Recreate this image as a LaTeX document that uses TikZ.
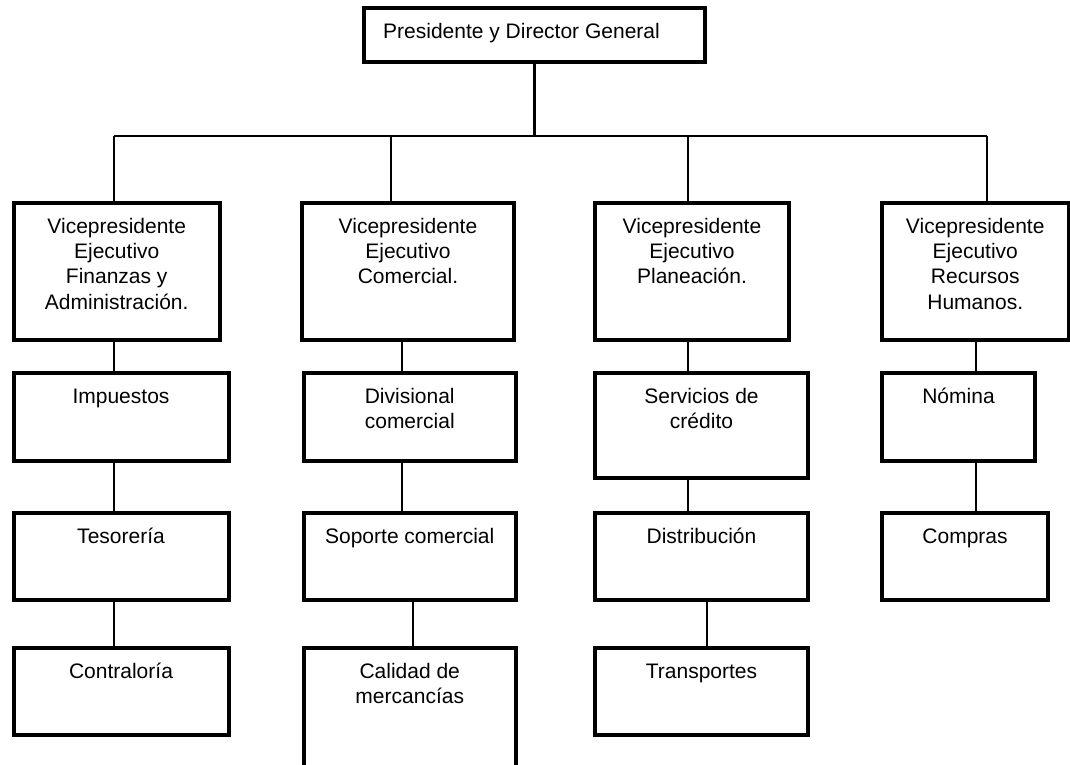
\documentclass[tikz,border=0pt]{standalone}
\usepackage{fontspec}
\setmainfont{Liberation Sans}
\usetikzlibrary{calc}
\newcommand\orgbox[6]{%
  \node[box, minimum width={#4-#2}, minimum height={#5-#3}] (#1) at ({(#2+#4)/2},{(#3+#5)/2}) {};
  \node[lbl] (#1-t) at ($(#1.north)+(0,12.6)$) {\strut #6};}
\begin{document}
\begin{tikzpicture}[x=1pt,y=-1pt,
  box/.style={draw, line width=4pt, inner sep=0pt, outer sep=0pt, rectangle},
  lbl/.style={anchor=north, inner sep=0pt, align=center, font=\fontsize{21}{25.2}\selectfont},
  conn/.style={line width=2.5pt}]
\useasboundingbox (0,0) rectangle (1070,765);
\clip (0,0) rectangle (1070,765);
% top box
\node[box, minimum width=341pt, minimum height=54pt] (top) at (534.5,35) {};
\node[lbl, anchor=north west] (top-t) at (383,20.6) {\strut Presidente y Director General};
% vice presidents
\orgbox{vp1}{13.5}{203}{220}{340}{Vicepresidente\\Ejecutivo\\Finanzas y\\Administración.}
\orgbox{vp2}{302}{203}{514}{340}{Vicepresidente\\Ejecutivo\\Comercial.}
\orgbox{vp3}{595}{203}{789}{340}{Vicepresidente\\Ejecutivo\\Planeación.}
\orgbox{vp4}{882}{203}{1068.5}{340}{Vicepresidente\\Ejecutivo\\Recursos\\Humanos.}
% row 2
\orgbox{a1}{13.5}{373}{228.5}{461}{Impuestos}
\orgbox{a2}{303.5}{373}{516}{461}{Divisional\\comercial}
\orgbox{a3}{595}{373}{808}{478}{Servicios de\\crédito}
\orgbox{a4}{882}{373}{1035}{461}{Nómina}
% row 3
\orgbox{b1}{13.5}{513}{228.5}{600}{Tesorería}
\orgbox{b2}{303.5}{513}{516}{600}{Soporte comercial}
\orgbox{b3}{595}{513}{808}{600}{Distribución}
\orgbox{b4}{882}{513}{1048}{600}{Compras}
% row 4
\orgbox{c1}{13.5}{648}{228.5}{735}{Contraloría}
\orgbox{c2}{303.5}{648}{516}{780}{Calidad de\\mercancías}
\orgbox{c3}{595}{648}{808}{735}{Transportes}
% connectors
\coordinate (busL) at (114,136);
\coordinate (bus2) at (391,136);
\coordinate (bus3) at (688,136);
\coordinate (busR) at (987,136);
\coordinate (k1) at (114,0);
\coordinate (k2) at (402,0);
\coordinate (k3) at (688,0);
\coordinate (k4) at (976,0);
\coordinate (m2) at (413,0);
\coordinate (m3) at (707,0);
\draw[conn] (top.south) -- (top.south |- busL);
\draw[conn] (busL) -- (busR);
\draw[conn] (busL) -- (busL |- vp1.north);
\draw[conn] (bus2) -- (bus2 |- vp2.north);
\draw[conn] (bus3) -- (bus3 |- vp3.north);
\draw[conn] (busR) -- (busR |- vp4.north);
\draw[conn] (vp1.south -| k1) -- (a1.north -| k1);
\draw[conn] (vp2.south -| k2) -- (a2.north -| k2);
\draw[conn] (vp3.south -| k3) -- (a3.north -| k3);
\draw[conn] (vp4.south -| k4) -- (a4.north -| k4);
\draw[conn] (a1.south -| k1) -- (b1.north -| k1);
\draw[conn] (a2.south -| k2) -- (b2.north -| k2);
\draw[conn] (a3.south -| k3) -- (b3.north -| k3);
\draw[conn] (a4.south -| k4) -- (b4.north -| k4);
\draw[conn] (b1.south -| k1) -- (c1.north -| k1);
\draw[conn] (b2.south -| m2) -- (c2.north -| m2);
\draw[conn] (b3.south -| m3) -- (c3.north -| m3);
\end{tikzpicture}
\end{document}
